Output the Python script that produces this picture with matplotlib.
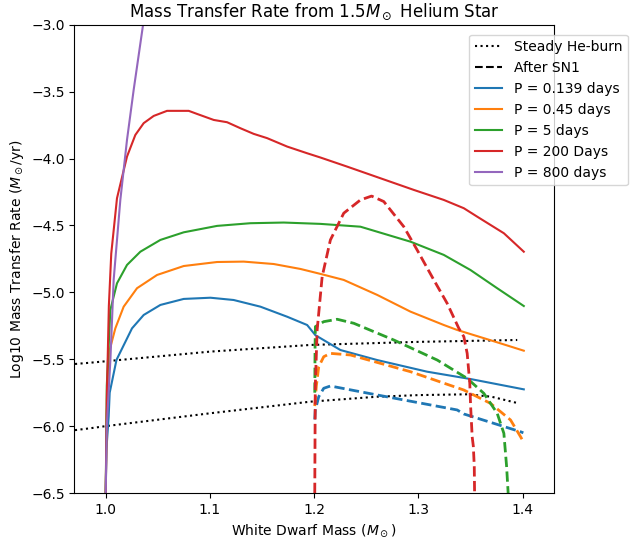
import numpy as np
import matplotlib.pyplot as plt
from matplotlib.lines import Line2D

# steady helium burning limits (upper / lower)
steady_hi_m = [0.96, 0.985, 1.0, 1.1, 1.1964, 1.3, 1.3947]
steady_hi_r = [-5.542, -5.526, -5.515, -5.443, -5.393, -5.370, -5.356]
steady_lo_m = [0.96, 0.985, 1.0, 1.1, 1.1964, 1.2604, 1.30, 1.3467, 1.37, 1.3963]
steady_lo_r = [-6.04, -6.016, -6.0, -5.904, -5.817, -5.78, -5.768, -5.762, -5.78, -5.83]

# before SN1 (solid)
p0139_m = [1.0, 1.0006, 1.0028, 1.0038, 1.0103, 1.0252, 1.0364, 1.0524, 1.0748, 1.1004, 1.1227, 1.1484,
           1.174, 1.1932, 1.2011, 1.2251, 1.2604, 1.3083, 1.35, 1.401]
p0139_r = [-6.5, -6.18, -5.93, -5.75, -5.505, -5.269, -5.169, -5.094, -5.049, -5.040, -5.057, -5.107,
           -5.182, -5.244, -5.32, -5.431, -5.506, -5.593, -5.648, -5.725]

p045_m = [1.0, 1.001, 1.0038, 1.0092, 1.0172, 1.030, 1.0492, 1.0748, 1.1068, 1.1323, 1.1611, 1.1868,
          1.206, 1.2283, 1.2604, 1.2923, 1.3243, 1.3371, 1.37, 1.401]
p045_r = [-6.5, -5.9, -5.43, -5.269, -5.107, -4.969, -4.870, -4.803, -4.773, -4.770, -4.788, -4.825,
          -4.862, -4.907, -5.019, -5.144, -5.244, -5.281, -5.36, -5.436]

p5_m = [1.0, 1.001, 1.0044, 1.0108, 1.0204, 1.0332, 1.0524, 1.0748, 1.1068, 1.1388, 1.1707, 1.206,
        1.2443, 1.2923, 1.3243, 1.3499, 1.3755, 1.401]
p5_r = [-6.5, -5.7, -5.132, -4.932, -4.795, -4.696, -4.608, -4.551, -4.503, -4.483, -4.478, -4.488,
        -4.509, -4.621, -4.72, -4.833, -4.969, -5.102]

p200_m = [1.0, 1.001, 1.003, 1.0053, 1.0108, 1.0204, 1.0284, 1.0364, 1.046, 1.0588, 1.0716, 1.0796,
          1.0876, 1.1036, 1.1164, 1.1292, 1.1419, 1.1548, 1.174, 1.1932, 1.206, 1.2316, 1.2955,
          1.3243, 1.3435, 1.3563, 1.3819, 1.401]
p200_r = [-6.5, -5.8, -5.1, -4.71, -4.296, -3.985, -3.823, -3.735, -3.681, -3.643, -3.643, -3.643,
          -3.666, -3.711, -3.728, -3.773, -3.815, -3.847, -3.910, -3.960, -3.992, -4.06, -4.234,
          -4.309, -4.371, -4.434, -4.558, -4.696]

p800_m = [1.0, 1.001, 1.0045, 1.0076, 1.014, 1.0204, 1.0268, 1.0358, 1.04]
p800_r = [-6.5, -6.0, -5.5, -4.907, -4.309, -3.860, -3.486, -3.0, -2.77]

# after SN1 (dashed)
sn_p0139_m = [1.2005, 1.201, 1.2043, 1.2091, 1.2155, 1.2604, 1.3371, 1.3435, 1.3979, 1.4006]
sn_p0139_r = [-5.95, -5.88, -5.78, -5.717, -5.70, -5.767, -5.879, -5.909, -6.042, -6.05]

sn_p045_m = [1.2005, 1.202, 1.2043, 1.2091, 1.2155, 1.2347, 1.2923, 1.3435, 1.3691, 1.3883, 1.3979, 1.4006]
sn_p045_r = [-5.85, -5.7, -5.556, -5.481, -5.456, -5.468, -5.593, -5.73, -5.830, -5.954, -6.079, -6.117]

sn_p5_m = [1.2005, 1.2008, 1.2011, 1.2091, 1.222, 1.2379, 1.2763, 1.318, 1.3467, 1.3627, 1.3755, 1.3819,
           1.3845, 1.386]
sn_p5_r = [-5.75, -5.4, -5.256, -5.219, -5.201, -5.231, -5.356, -5.506, -5.643, -5.755, -5.904, -6.054,
           -6.30, -6.5]

sn_p200_m = [1.2005, 1.201, 1.2028, 1.2076, 1.2155, 1.2283, 1.2443, 1.255, 1.2667, 1.2859, 1.2987, 1.3147,
             1.3275, 1.3387, 1.3435, 1.3467, 1.3492, 1.350, 1.3515, 1.3526, 1.3535, 1.3538]
sn_p200_r = [-6.5, -5.7, -5.281, -4.882, -4.608, -4.408, -4.309, -4.28, -4.321, -4.509, -4.683, -4.907,
             -5.082, -5.269, -5.331, -5.456, -5.68, -5.85, -6.08, -6.15, -6.3, -6.5]

labels = ["P = 0.139 days", "P = 0.45 days", "P = 5 days", "P = 200 Days", "P = 800 days"]
colors = ["C0", "C1", "C2", "C3", "C4"]

fig = plt.figure(figsize=(6.31, 5.4), dpi=100)
ax = fig.add_axes([0.118, 0.087, 0.76, 0.867])

ax.plot(steady_hi_m, steady_hi_r, ":", color="black", lw=1.5)
ax.plot(steady_lo_m, steady_lo_r, ":", color="black", lw=1.5)

solid = [(p0139_m, p0139_r), (p045_m, p045_r), (p5_m, p5_r), (p200_m, p200_r), (p800_m, p800_r)]
for (m, r), c in zip(solid, colors):
    ax.plot(m, r, "-", color=c, lw=1.5)

dashed = [(sn_p0139_m, sn_p0139_r), (sn_p045_m, sn_p045_r), (sn_p5_m, sn_p5_r), (sn_p200_m, sn_p200_r)]
for (m, r), c in zip(dashed, colors):
    ax.plot(m, r, "--", color=c, lw=2)

ax.set_xlim(0.97, 1.43)
ax.set_ylim(-6.5, -3.0)
ax.set_xlabel(r"White Dwarf Mass ($M_\odot$)")
ax.set_ylabel(r"Log10 Mass Transfer Rate ($M_\odot$/yr)")
ax.set_title(r"Mass Transfer Rate from 1.5$M_\odot$ Helium Star")

handles = [Line2D([], [], ls=":", color="black", lw=1.5),
           Line2D([], [], ls="--", color="black", lw=1.5)]
handles += [Line2D([], [], color=c, lw=1.5) for c in colors]
ax.legend(handles, ["Steady He-burn", "After SN1"] + labels,
          loc="upper left", bbox_to_anchor=(0.823, 0.979), borderaxespad=0)

plt.savefig("out.png", dpi=100)
